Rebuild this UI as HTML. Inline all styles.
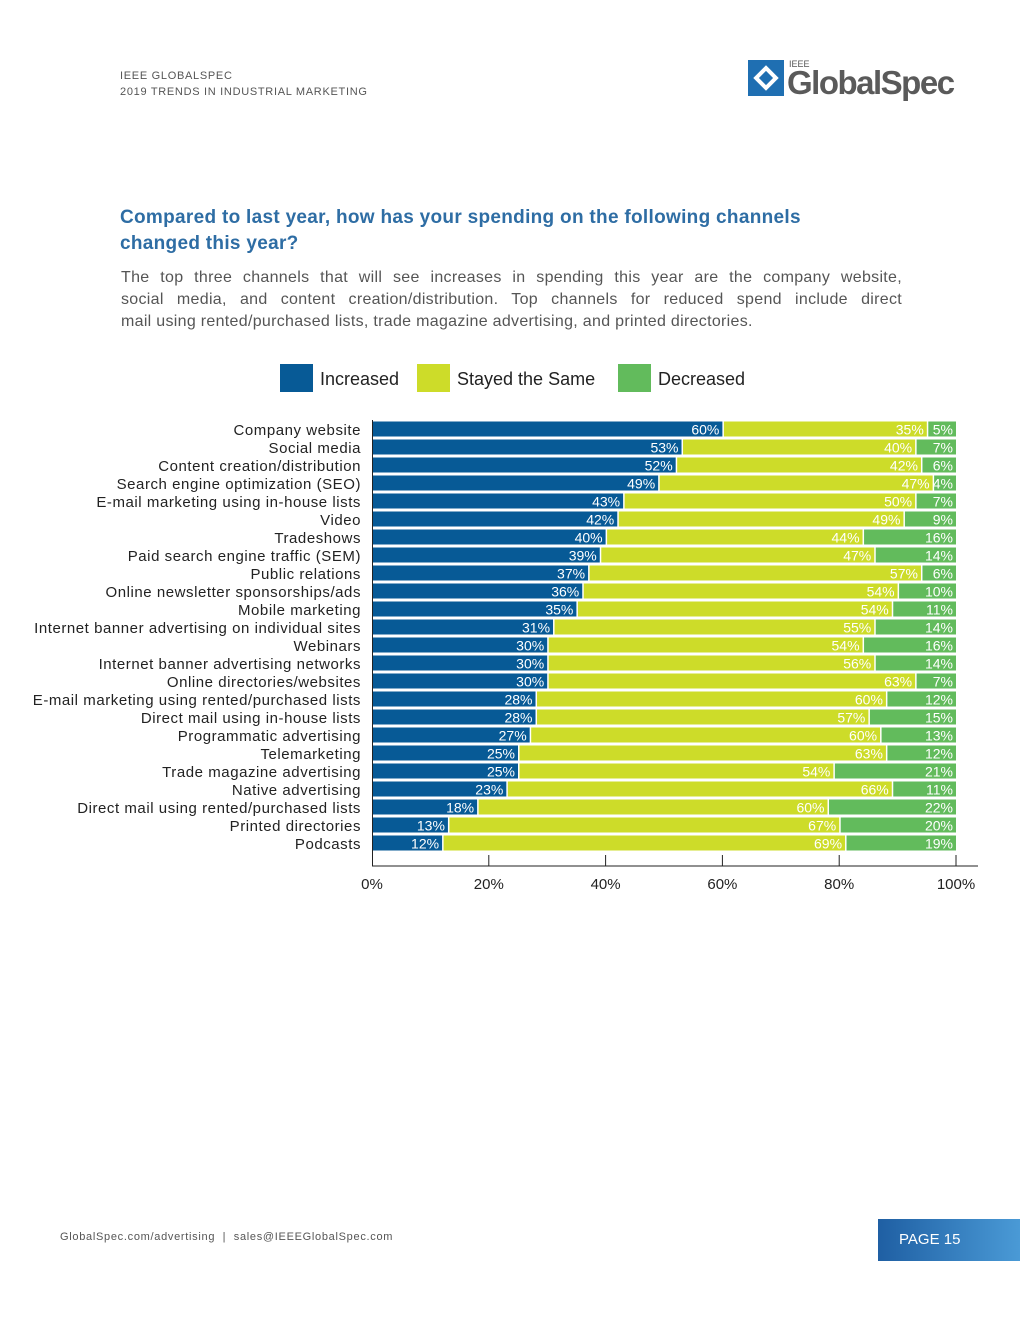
<!DOCTYPE html>
<html><head><meta charset="utf-8"><style>
body{margin:0;background:#fff;font-family:"Liberation Sans",sans-serif;}
#page{position:relative;width:1020px;height:1320px;overflow:hidden;background:#fff;}
.abs{position:absolute;}
.dl{text-align:justify;text-align-last:justify;}
</style></head><body>
<div id="page">
<div class="abs" style="left:120px;top:68px;font-size:11px;color:#555;letter-spacing:0.7px;line-height:16px">IEEE GLOBALSPEC<br>2019 TRENDS IN INDUSTRIAL MARKETING</div>
<div class="abs" style="left:748px;top:58px;width:215px;height:50px">
<svg width="215" height="50"><rect x="0" y="2" width="36" height="36" fill="#1f6fb2"/><rect x="9" y="11" width="18" height="18" fill="#fff" transform="rotate(45 18 20)"/><rect x="13" y="15" width="10" height="10" fill="#1f6fb2" transform="rotate(45 18 20)"/>
<text x="41" y="9" font-size="9" fill="#555" font-family="Liberation Sans">IEEE</text>
<text x="39" y="36" font-size="33" font-weight="bold" fill="#5a5a5a" font-family="Liberation Sans" letter-spacing="-1.5">GlobalSpec</text></svg></div>
<div class="abs" style="left:120px;top:205px;font-size:19px;font-weight:bold;color:#2e6da4;line-height:26px;width:730px;letter-spacing:0.3px">Compared to last year, how has your spending on the following channels changed this year?</div>
<div class="abs" style="left:121px;top:267px;font-size:16px;color:#555;line-height:22px;width:781px;letter-spacing:0.3px">
<div class="dl">The top three channels that will see increases in spending this year are the company website,</div>
<div class="dl">social media, and content creation/distribution. Top channels for reduced spend include direct</div>
<div>mail using rented/purchased lists, trade magazine advertising, and printed directories.</div>
</div>
<svg class="abs" id="chart" style="left:0;top:0" width="1020" height="1000"></svg>
<div class="abs" style="left:60px;top:1231px;font-size:11px;color:#555;letter-spacing:0.7px">GlobalSpec.com/advertising &nbsp;|&nbsp; sales@IEEEGlobalSpec.com</div>
<div class="abs" style="left:878px;top:1219px;width:142px;height:42px;background:linear-gradient(90deg,#1f5fa3,#4a9ad6);color:#fff;font-size:15px;line-height:42px;box-sizing:border-box;padding-left:21px">PAGE 15</div>
</div>
<script>
const categories=["Company website","Social media","Content creation/distribution","Search engine optimization (SEO)","E-mail marketing using in-house lists","Video","Tradeshows","Paid search engine traffic (SEM)","Public relations","Online newsletter sponsorships/ads","Mobile marketing","Internet banner advertising on individual sites","Webinars","Internet banner advertising networks","Online directories/websites","E-mail marketing using rented/purchased lists","Direct mail using in-house lists","Programmatic advertising","Telemarketing","Trade magazine advertising","Native advertising","Direct mail using rented/purchased lists","Printed directories","Podcasts"];
const increased=[60,53,52,49,43,42,40,39,37,36,35,31,30,30,30,28,28,27,25,25,23,18,13,12];
const same=[35,40,42,47,50,49,44,47,57,54,54,55,54,56,63,60,57,60,63,54,66,60,67,69];
const decreased=[5,7,6,4,7,9,16,14,6,10,11,14,16,14,7,12,15,13,12,21,11,22,20,19];
const ticks=[0,20,40,60,80,100];
const NS="http://www.w3.org/2000/svg";
const svg=document.getElementById('chart');
const X0=372,X1=956,Y0=429,STEP=18,BH=15;
const xs=v=>X0+(X1-X0)*v/100;
const ys=i=>Y0+i*STEP;
function mk(t,a){const e=document.createElementNS(NS,t);for(const k in a)e.setAttribute(k,a[k]);svg.appendChild(e);return e;}
const leg=[["Increased","#075a96",280],["Stayed the Same","#cddc29",417],["Decreased","#62bb5c",618]];
leg.forEach(l=>{const r=mk('rect',{x:l[2],y:364,width:33,height:28,fill:l[1]});


const t=mk('text',{x:l[2]+40,y:385,'font-size':18,fill:'#222','font-family':'Liberation Sans'});t.textContent=l[0];

});
const cols=["#075a96","#cddc29","#62bb5c"];
categories.forEach((c,i)=>{
 const y=ys(i);
 const lab=mk('text',{x:361,y:y+6,'text-anchor':'end','font-size':15,'letter-spacing':0.55,fill:'#222','font-family':'Liberation Sans'});lab.textContent=c;
 
 
 const vals=[increased[i],same[i],decreased[i]];let acc=0;
 vals.forEach((v,k)=>{
  const xa=xs(acc),xb=xs(acc+v);
  const r=mk('rect',{x:xa+(k?1.5:0),y:y-BH/2,width:xb-xa-(k?1.5:0),height:BH,fill:cols[k]});
  
  
  const t=mk('text',{x:xb-3,y:y+5.5,'text-anchor':'end','font-size':14,fill:'#fff','font-family':'Liberation Sans'});t.textContent=v+'%';
  
  
  acc+=v;});
});
const ax=mk('line',{x1:372,x2:978,y1:866,y2:866,stroke:'#222','stroke-width':1});


mk('line',{x1:372.5,x2:372.5,y1:420,y2:866,stroke:'#222','stroke-width':1});
ticks.forEach(t=>{const x=xs(t);
 if(t>0)mk('line',{x1:x,x2:x,y1:855,y2:866,stroke:'#222','stroke-width':1});
 const tl=mk('text',{x:x,y:889,'text-anchor':'middle','font-size':15,fill:'#222','font-family':'Liberation Sans'});tl.textContent=t+'%';
 
 });
</script>
</body></html>
